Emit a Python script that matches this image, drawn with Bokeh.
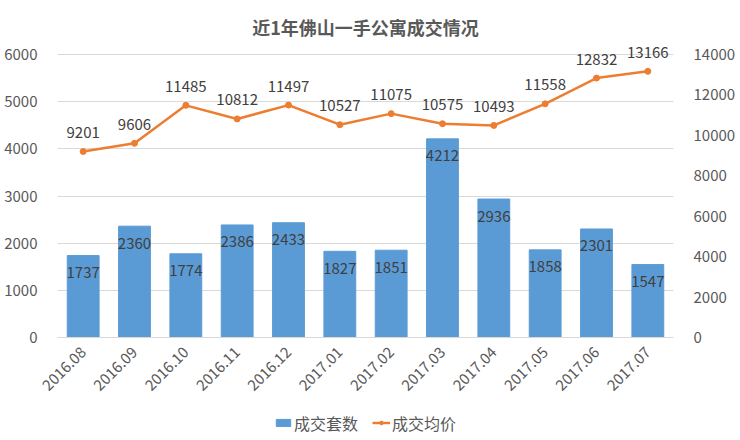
from bokeh.plotting import figure
from bokeh.models import ColumnDataSource, Range1d, LinearAxis, Legend, LegendItem, FixedTicker, Title
from bokeh.layouts import column
from bokeh.core.properties import value
from bokeh.embed import file_html
from bokeh.resources import INLINE
import math

months = ["2016.08", "2016.09", "2016.10", "2016.11", "2016.12", "2017.01",
          "2017.02", "2017.03", "2017.04", "2017.05", "2017.06", "2017.07"]
units = [1737, 2360, 1774, 2386, 2433, 1827, 1851, 4212, 2936, 1858, 2301, 1547]
prices = [9201, 9606, 11485, 10812, 11497, 10527, 11075, 10575, 10493, 11558, 12832, 13166]
left_ticks = [0, 1000, 2000, 3000, 4000, 5000, 6000]
right_ticks = [0, 2000, 4000, 6000, 8000, 10000, 12000, 14000]
series_names = ["成交套数", "成交均价"]
title_text = "近1年佛山一手公寓成交情况"

FONT = "Noto Sans CJK SC"
BLUE = "#5B9BD5"
ORANGE = "#ED7D31"
TXT = "#595959"
LBL = "#404040"

# frame extends 14px above the 6000 gridline so the top data labels are not clipped
GRID_H = 283.0
EXTRA = 14.0
left_max = 6000 * (GRID_H + EXTRA) / GRID_H
right_max = 14000 * (GRID_H + EXTRA) / GRID_H

src = ColumnDataSource(dict(m=months, u=units, p=prices,
                            ul=[str(v) for v in units], pl=[str(v) for v in prices]))

p = figure(x_range=months, y_range=Range1d(0, left_max), width=740, height=405,
           output_backend="svg", toolbar_location=None,
           min_border_left=57, min_border_right=67, min_border_top=40, min_border_bottom=68)
p.extra_y_ranges = {"price": Range1d(0, right_max)}

p.title = Title(text=title_text, align="center", text_font=FONT, standoff=2,
                text_font_size="18px", text_font_style="bold", text_color=TXT)

bars = p.vbar(x="m", top="u", width=0.62, source=src, color=BLUE)
p.text(x="m", y="u", text="ul", source=src, text_align="center", text_baseline="middle",
       y_offset=17, text_font=value(FONT), text_font_size="15px", text_color=LBL)

ln = p.line(x="m", y="p", source=src, y_range_name="price", line_color=ORANGE, line_width=2.5)
sc = p.scatter(x="m", y="p", source=src, y_range_name="price", size=6, color=ORANGE)
p.text(x="m", y="p", text="pl", source=src, y_range_name="price", text_align="center",
       text_baseline="middle", y_offset=-19, text_font=value(FONT), text_font_size="15px",
       text_color=LBL)

right = LinearAxis(y_range_name="price", ticker=FixedTicker(ticks=right_ticks))
p.add_layout(right, "right")
p.yaxis[0].ticker = FixedTicker(ticks=left_ticks)

for ax in p.yaxis:
    ax.axis_line_color = None
    ax.major_tick_line_color = None
    ax.minor_tick_line_color = None
    ax.major_label_text_font = FONT
    ax.major_label_text_font_size = "15px"
    ax.major_label_text_color = TXT
p.yaxis[0].major_label_standoff = 14
right.major_label_standoff = 14

xa = p.xaxis[0]
xa.axis_line_color = "#D9D9D9"
xa.major_tick_line_color = None
xa.major_label_orientation = math.pi / 4
xa.major_label_text_font = FONT
xa.major_label_text_font_size = "15px"
xa.major_label_text_color = TXT
xa.major_label_standoff = 6

p.xgrid.grid_line_color = None
p.ygrid.grid_line_color = "#D9D9D9"
p.ygrid.ticker = FixedTicker(ticks=left_ticks)
p.outline_line_color = None

# legend strip (dummy glyphs sit outside the visible range; only their legend swatches show)
lg = figure(width=740, height=35, output_backend="svg", toolbar_location=None,
            x_range=Range1d(0, 1), y_range=Range1d(0, 1),
            min_border_left=0, min_border_right=0, min_border_top=0, min_border_bottom=0)
lg.axis.visible = False
lg.grid.grid_line_color = None
lg.outline_line_color = None
lb = lg.vbar(x=[-5], top=[-5], width=0.5, color=BLUE)
ll = lg.line(x=[-5, -4], y=[-5, -5], line_color=ORANGE, line_width=2.5)
ls = lg.scatter(x=[-5], y=[-5], size=6, color=ORANGE)
legend = Legend(items=[LegendItem(label=series_names[0], renderers=[lb]),
                       LegendItem(label=series_names[1], renderers=[ll, ls])],
                orientation="horizontal", location="center",
                label_text_font=FONT, label_text_font_size="16px", label_text_color=TXT,
                border_line_color=None, background_fill_alpha=0,
                glyph_width=18, glyph_height=9, spacing=14, padding=0, margin=0,
                label_standoff=2)
lg.add_layout(legend, "center")

layout = column(p, lg, spacing=0)
open("out.html", "w").write(file_html(layout, INLINE))
